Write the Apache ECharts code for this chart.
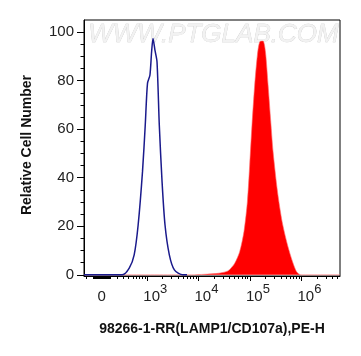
<!DOCTYPE html>
<html>
<head>
<meta charset="utf-8">
<style>
html, body { margin: 0; padding: 0; background: #fff; }
#main { width: 361px; height: 356px; }
</style>
<script src="https://cdn.jsdelivr.net/npm/echarts@6.0.0/dist/echarts.min.js"></script>
</head>
<body>
<div id="main"></div>
<script>
// PE-H intensity (linear channel units) and relative cell number
var isotypeX = [-234, 280, 415, 535, 650, 800, 910, 1010, 1130, 1220, 1300, 1420, 1560, 1730, 1960, 2240, 2720, 3410, 4950, 6000];
var isotypeY = [0, 0, 2.7, 8.2, 20.5, 42.5, 61.7, 78.9, 82.3, 91.9, 97.4, 92.6, 87.8, 61.7, 38.4, 20.5, 8.2, 2, 0, 0];
var stainedX = [-234, 7400, 13100, 23800, 37300, 50400, 63200, 76600, 89200, 98900, 109600, 123700, 139600, 154900, 179600, 200100, 225000, 253800, 281400, 342900, 421300, 536000, 671600, 803400, 974900, 5600000];
var stainedY = [0, 0, 0.2, 0.6, 1.6, 4.7, 9.5, 17.8, 30.1, 45.2, 61.7, 78.2, 90.6, 96, 96.3, 91.9, 78.2, 63.1, 50.7, 34.2, 21.9, 12.3, 5.4, 1.3, 0, 0];

var decades = [1e3, 1e4, 1e5, 1e6];
var decadeExp = ['3', '4', '5', '6'];
var yTicks = [0, 20, 40, 60, 80, 100];
var yMinor = [5, 10, 15, 25, 30, 35, 45, 50, 55, 65, 70, 75, 85, 90, 95];
var xRange = [-234, 5600000];
var yRange = [-0.5, 105];

// biexponential-like display transform (decades)
function biex(v) { return Math.asinh(v / 266) / Math.LN10; }

var minorVals = [0, -100, -200];
for (var k = 1; k < 10; k++) { minorVals.push(k * 10, -k * 10); }
for (var n = 2; n <= 6; n++) {
  for (var m = 1; m < 10; m++) {
    var v = m * Math.pow(10, n);
    if (m === 1 && n > 2) continue;
    if (v < xRange[1]) minorVals.push(v);
  }
}

var majorPos = decades.map(biex);
var labelVals = [biex(0)].concat(majorPos);

function toPairs(xs, ys) {
  return xs.map(function (x, i) { return [biex(x), ys[i]]; });
}

var font = 'Liberation Sans, Arial, sans-serif';
var chart = echarts.init(document.getElementById('main'), null, { renderer: 'canvas' });

var xCommon = {
  type: 'value', position: 'bottom',
  min: biex(xRange[0]), max: biex(xRange[1]),
  splitLine: { show: false }
};
var yCommon = {
  type: 'value', position: 'left', min: yRange[0], max: yRange[1],
  splitLine: { show: false }
};

var option = {
  animation: false,
  grid: { left: 84, right: 21, top: 20, bottom: 80, show: true, borderColor: '#000', borderWidth: 1, backgroundColor: 'transparent' },
  xAxis: [
    Object.assign({}, xCommon, {
      axisLine: { onZero: false, lineStyle: { color: '#000', width: 1 } },
      axisTick: { customValues: majorPos, length: 5, lineStyle: { color: '#000' } },
      axisLabel: {
        customValues: labelVals,
        margin: 7,
        color: '#222',
        fontFamily: font,
        formatter: function (val) {
          if (Math.abs(val) < 1e-6) return '{b|0}';
          for (var i = 0; i < majorPos.length; i++) {
            if (Math.abs(val - majorPos[i]) < 1e-6) return '{p| }{b|10}{s|' + decadeExp[i] + '}';
          }
          return '';
        },
        rich: {
          p: { width: 16, fontSize: 15, fontFamily: font },
          b: { fontSize: 15, lineHeight: 21, verticalAlign: 'bottom', color: '#222', fontFamily: font },
          s: { fontSize: 13, verticalAlign: 'top', color: '#222', fontFamily: font }
        }
      }
    }),
    Object.assign({}, xCommon, {
      axisLine: { show: false, onZero: false },
      axisTick: { customValues: minorVals.map(biex), length: 3, lineStyle: { color: '#000' } },
      axisLabel: { show: false }
    })
  ],
  yAxis: [
    Object.assign({}, yCommon, {
      axisLine: { show: true, onZero: false, lineStyle: { color: '#000' } },
      axisTick: { show: true, customValues: yTicks, length: 7, lineStyle: { color: '#000' } },
      axisLabel: { customValues: yTicks, margin: 10, fontSize: 15, color: '#222', fontFamily: font }
    }),
    Object.assign({}, yCommon, {
      axisLine: { show: false, onZero: false },
      axisTick: { show: true, customValues: yMinor, length: 3.5, lineStyle: { color: '#000' } },
      axisLabel: { show: false }
    })
  ],
  graphic: [
    {
      type: 'text', left: 88, top: 22, z: 0, silent: true,
      style: { text: 'WWW.PTGLAB.COM', font: 'italic 26px ' + font, fill: '#f2f2f2', stroke: '#c4c4c4', lineWidth: 0.5 }
    },
    {
      type: 'text', x: 27, y: 145, rotation: Math.PI / 2,
      style: { text: 'Relative Cell Number', font: 'bold 14px ' + font, fill: '#111', align: 'center', verticalAlign: 'middle' }
    },
    {
      type: 'text', x: 212, y: 329,
      style: { text: '98266-1-RR(LAMP1/CD107a),PE-H', font: 'bold 14px ' + font, fill: '#111', align: 'center', verticalAlign: 'middle' }
    }
  ],
  series: [
    {
      type: 'line', name: 'stained', data: toPairs(stainedX, stainedY),
      symbol: 'none', smooth: 0.25,
      lineStyle: { color: '#ff6a6a', width: 0.6 },
      areaStyle: { color: '#ff0000', opacity: 1 },
      z: 3
    },
    {
      type: 'line', name: 'isotype', data: toPairs(isotypeX, isotypeY),
      symbol: 'none', smooth: 0.25,
      lineStyle: { color: '#1a1a8c', width: 1.5 },
      z: 4
    }
  ]
};

chart.setOption(option);
window.addEventListener('resize', chart.resize);
</script>
</body>
</html>
